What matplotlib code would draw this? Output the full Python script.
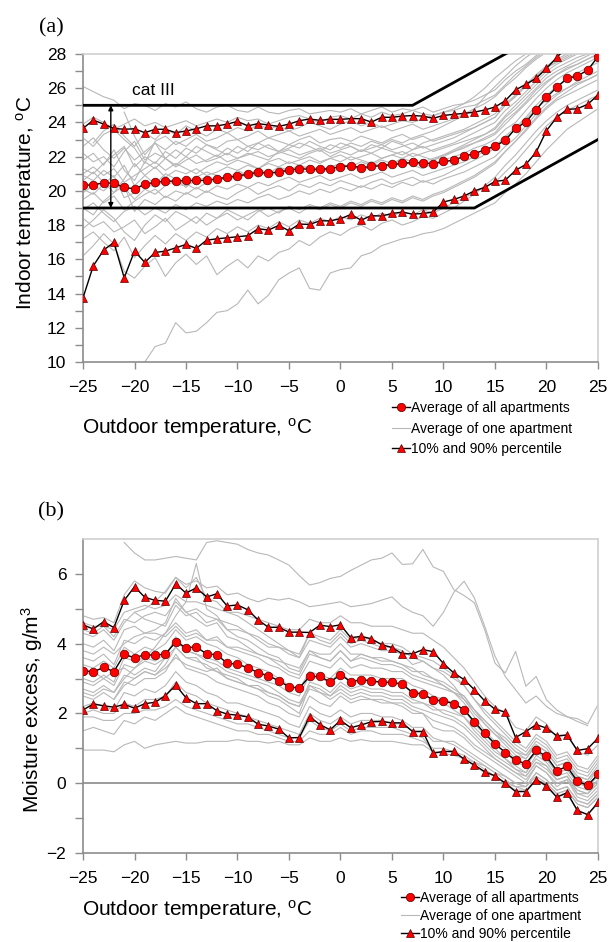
import numpy as np
import matplotlib
matplotlib.use("Agg")
import matplotlib.pyplot as plt
from matplotlib.lines import Line2D

plt.rcParams['font.family'] = ['Liberation Sans', 'DejaVu Sans']
plt.rcParams['mathtext.fontset'] = 'custom'
plt.rcParams['mathtext.rm'] = 'Liberation Sans'
plt.rcParams['mathtext.it'] = 'Liberation Sans:italic'

# Outdoor temperature bins, one per degree
t_out = np.arange(-25, 26)

# (a) indoor temperature, all apartments
indoor_mean = [20.34, 20.34, 20.48, 20.44, 20.2, 20.12, 20.38, 20.51, 20.57, 20.57, 20.61, 20.61, 20.61,
               20.71, 20.79, 20.87, 20.98, 21.08, 21.04, 21.1, 21.2, 21.3, 21.26, 21.26, 21.3,
               21.41, 21.47, 21.35, 21.43, 21.47, 21.55, 21.6, 21.66, 21.64, 21.57, 21.72, 21.78, 22.03,
               22.17, 22.4, 22.62, 22.95, 23.65, 24.02, 24.74, 25.47, 26.05, 26.58, 26.71, 27.06, 27.84]
indoor_p90 = [23.65, 24.14, 23.9, 23.65, 23.6, 23.63, 23.4, 23.6, 23.6, 23.4, 23.5, 23.63, 23.8,
              23.8, 23.9, 24.06, 23.8, 23.93, 23.85, 23.77, 23.9, 24.1, 24.2, 24.12, 24.18,
              24.18, 24.22, 24.22, 24.02, 24.3, 24.3, 24.37, 24.4, 24.37, 24.24, 24.41, 24.47, 24.53,
              24.6, 24.73, 24.9, 25.27, 25.9, 26.23, 26.58, 27.16, 27.8, 28.4, 28.9, 29.4, 29.9]
indoor_p10 = [13.75, 15.62, 16.54, 16.99, 14.92, 16.48, 15.82, 16.4, 16.48, 16.67, 16.87, 16.64, 17.12,
              17.2, 17.26, 17.32, 17.38, 17.79, 17.71, 17.98, 17.67, 18.06, 18.04, 18.25, 18.25,
              18.37, 18.62, 18.29, 18.55, 18.53, 18.68, 18.76, 18.64, 18.68, 18.76, 19.35, 19.5, 19.7,
              20.0, 20.2, 20.55, 20.63, 21.2, 21.55, 22.27, 23.52, 24.3, 24.76, 24.8, 25.06, 25.6]

# (a) single apartments: (first outdoor temperature, values)
indoor_apartments = [
    (-25, [26.1, 25.8, 25.5, 25.3, 24.8, 25.1, 25.0, 24.7, 25.1, 24.9, 25.2, 24.8, 24.6, 24.9, 25.0, 24.7, 24.6,
           24.9, 24.6, 24.5, 24.7, 24.8, 24.5, 24.6, 24.7, 24.6, 24.8, 24.5, 24.7, 24.9, 24.6, 24.8, 24.7, 24.9,
           24.6, 24.8, 25.0, 25.1, 25.3, 25.6, 25.9, 26.5, 27.0, 27.4, 27.9, 28.3, 28.6, 28.9, 29.2, 29.4, 29.7]),
    (-25, [23.9, 24.3, 24.0, 23.6, 23.9, 24.2, 23.8, 24.0, 23.7, 23.9, 24.1, 23.8, 24.0, 24.2, 24.0, 24.3, 24.1,
           24.2, 23.9, 24.1, 24.3, 24.4, 24.2, 24.0, 24.3, 24.4, 24.2, 24.5, 24.3, 24.6, 24.4, 24.5, 24.7, 24.5,
           24.4, 24.6, 24.7, 24.9, 25.0, 25.3, 25.6, 26.2, 26.8, 27.3, 27.8, 28.2, 28.6, 28.8, 29.1, 29.3, 29.6]),
    (-25, [22.6, 23.1, 22.4, 21.9, 22.5, 21.8, 22.3, 22.8, 22.4, 22.9, 22.6, 23.1, 22.7, 22.5, 22.9, 23.0, 22.6,
           22.8, 23.1, 22.9, 22.7, 23.0, 23.2, 22.8, 23.0, 23.1, 22.9, 23.2, 23.0, 22.8, 23.1, 23.3, 23.0, 23.2,
           22.9, 23.1, 23.3, 23.5, 23.7, 24.0, 24.3, 25.0, 25.5, 26.1, 26.7, 27.2, 27.6, 27.9, 28.2, 28.4, 28.7]),
    (-25, [21.8, 22.2, 21.5, 22.4, 21.2, 20.6, 21.7, 21.3, 21.9, 21.5, 22.0, 21.6, 21.8, 22.1, 21.7, 21.9, 22.2,
           22.0, 21.8, 22.3, 22.1, 21.9, 22.2, 22.4, 22.0, 22.3, 22.1, 22.4, 22.2, 22.5, 22.3, 22.1, 22.4, 22.6,
           22.3, 22.5, 22.7, 22.9, 23.1, 23.3, 23.6, 24.3, 24.8, 25.4, 26.0, 26.6, 27.0, 27.3, 27.6, 27.9, 28.2]),
    (-25, [20.9, 20.6, 21.2, 20.8, 21.5, 20.3, 20.9, 21.4, 20.8, 21.2, 21.0, 21.3, 20.9, 21.1, 21.4, 21.2, 21.5,
           21.3, 21.6, 21.4, 21.7, 21.5, 21.8, 21.6, 21.9, 21.7, 22.0, 21.8, 21.6, 21.9, 22.1, 21.9, 22.2, 22.0,
           21.8, 22.1, 22.3, 22.6, 22.8, 23.1, 23.4, 24.1, 24.6, 25.2, 25.9, 26.4, 26.8, 27.2, 27.4, 27.7, 28.0]),
    (-25, [20.1, 19.8, 20.4, 20.9, 19.6, 19.9, 20.5, 20.2, 20.7, 20.4, 20.3, 20.6, 20.8, 20.5, 20.9, 20.7, 21.0,
           21.2, 20.9, 21.1, 21.3, 21.0, 21.2, 21.4, 21.1, 21.3, 21.5, 21.2, 21.4, 21.6, 21.4, 21.7, 21.5, 21.3,
           21.6, 21.8, 22.0, 22.2, 22.5, 22.7, 23.0, 23.6, 24.0, 24.7, 25.4, 26.0, 26.5, 26.9, 27.2, 27.5, 27.8]),
    (-25, [19.5, 19.9, 19.3, 19.7, 18.9, 19.4, 19.8, 20.1, 19.6, 20.0, 19.8, 20.2, 19.9, 20.3, 20.1, 20.4, 20.2,
           20.5, 20.3, 20.6, 20.8, 20.5, 20.7, 20.9, 20.6, 20.8, 21.0, 20.7, 20.9, 21.1, 20.8, 21.0, 21.2, 20.9,
           21.1, 21.3, 21.5, 21.7, 22.0, 22.3, 22.6, 23.2, 23.7, 24.3, 25.0, 25.6, 26.1, 26.5, 26.9, 27.2, 27.5]),
    (-25, [18.9, 19.3, 18.7, 18.2, 18.8, 19.1, 18.6, 19.0, 18.7, 19.2, 18.9, 19.3, 19.1, 19.4, 19.2, 19.5, 19.3,
           19.6, 19.8, 19.5, 19.7, 20.0, 19.8, 20.1, 19.9, 20.2, 20.0, 20.3, 20.1, 20.4, 20.2, 20.5, 20.3, 20.6,
           20.4, 20.7, 20.9, 21.1, 21.4, 21.7, 22.0, 22.6, 23.1, 23.8, 24.5, 25.1, 25.6, 26.0, 26.4, 26.7, 27.0]),
    (-25, [17.2, 17.6, 17.0, 16.5, 17.3, 16.1, 16.8, 17.4, 16.9, 17.5, 17.1, 17.6, 17.3, 17.8, 17.5, 17.9, 17.6,
           18.0, 17.8, 18.2, 17.9, 18.3, 18.1, 18.4, 18.2, 18.5, 18.3, 18.6, 18.4, 18.7, 18.5, 18.8, 18.6, 18.9,
           18.7, 19.0, 19.3, 19.6, 19.9, 20.2, 20.5, 21.1, 21.7, 22.4, 23.1, 23.8, 24.3, 24.7, 25.0, 25.3, 25.6]),
    (-19, [10.0, 10.9, 11.1, 12.3, 11.7, 11.8, 12.3, 12.9, 13.0, 13.4, 14.2, 13.4, 13.9, 14.8, 15.2, 15.5, 14.3,
           14.2, 15.2, 15.4, 15.5, 16.2, 16.4, 16.8, 17.0, 17.2, 17.3, 17.5, 17.6, 17.8, 18.1, 18.4, 18.7, 19.0,
           19.3, 19.9, 20.4, 21.0, 21.7, 22.4, 23.0, 23.6, 24.0, 24.4, 24.8]),
    (-25, [16.2, 16.8, 17.5, 16.9, 15.3, 14.9, 15.6, 16.1, 15.0, 15.8, 16.3, 15.7, 16.2, 15.1, 15.6, 16.0, 15.5,
           16.2, 15.9, 16.4, 16.6, 17.1, 16.8, 17.3, 17.6, 17.4, 17.8, 18.0, 17.7, 18.1, 18.3, 18.0, 18.2, 18.5,
           18.4, 18.7, 19.0, 19.4, 19.8, 20.3, 20.8, 21.5, 22.1, 22.8, 23.5, 24.1, 24.6, 25.0, 25.3, 25.6, 25.9]),
    (-25, [18.4, 17.9, 18.2, 17.6, 17.9, 18.3, 17.5, 17.9, 18.4, 17.7, 18.1, 18.5, 18.0, 18.4, 18.7, 18.3, 18.6,
           18.9, 18.5, 18.8, 19.0, 18.7, 19.1, 18.9, 19.2, 19.0, 19.3, 19.1, 19.4, 19.2, 19.5, 19.3, 19.6, 19.4,
           19.7, 19.9, 20.2, 20.5, 20.8, 21.2, 21.6, 22.3, 22.9, 23.6, 24.3, 24.9, 25.4, 25.8, 26.2, 26.5, 26.8]),
    (-25, [21.3, 21.0, 21.6, 22.1, 22.6, 21.4, 22.0, 21.6, 22.3, 21.9, 22.5, 22.2, 22.7, 22.4, 22.1, 22.6, 22.3,
           22.8, 22.5, 22.3, 22.7, 22.5, 22.9, 22.6, 22.4, 22.8, 22.6, 22.3, 22.7, 22.5, 22.9, 22.7, 22.4, 22.8,
           23.0, 23.2, 23.4, 23.6, 23.9, 24.2, 24.5, 25.1, 25.6, 26.2, 26.7, 27.2, 27.5, 27.8, 28.1, 28.3, 28.5]),
    (-25, [19.9, 20.3, 20.0, 20.5, 20.2, 19.5, 20.1, 19.8, 20.3, 20.6, 20.4, 20.1, 20.5, 20.8, 20.6, 20.9, 21.1,
           20.8, 21.2, 21.0, 21.4, 21.2, 21.5, 21.1, 21.3, 21.6, 21.4, 21.7, 21.5, 21.8, 21.6, 21.9, 21.7, 21.5,
           21.8, 22.0, 22.3, 22.5, 22.8, 23.0, 23.3, 23.9, 24.5, 25.1, 25.7, 26.3, 26.8, 27.1, 27.4, 27.7, 28.0]),
    (-24, [22.8, 23.5, 23.9, 23.2, 22.6, 23.4, 23.0, 23.6, 23.3, 23.8, 23.5, 23.2, 23.6, 23.4, 23.7, 23.5, 23.9,
           23.6, 23.8, 23.5, 23.7, 24.0, 23.8, 23.6, 23.9, 24.1, 23.8, 24.0, 23.7, 23.9, 24.1, 24.0, 24.2, 24.4,
           24.6, 24.8, 25.1, 25.5, 26.0, 26.6, 27.1, 27.6, 28.0, 28.4, 28.7, 29.0, 29.2, 29.4, 29.6, 29.8]),
    (-25, [20.6, 21.1, 20.5, 19.9, 20.7, 21.6, 20.9, 20.4, 21.0, 20.7, 20.2, 20.8, 21.1, 20.9, 20.6, 21.2, 20.9,
           21.3, 21.0, 21.4, 21.2, 21.5, 21.3, 21.1, 21.4, 21.6, 21.3, 21.5, 21.7, 21.4, 21.6, 21.8, 21.5, 21.7,
           21.9, 22.1, 22.4, 22.7, 23.0, 23.3, 23.7, 24.4, 25.0, 25.6, 26.2, 26.8, 27.2, 27.5, 27.8, 28.0, 28.3]),
    (-25, [19.0, 18.6, 19.4, 19.9, 20.3, 18.8, 19.5, 19.2, 19.7, 19.4, 19.9, 19.6, 20.0, 19.7, 19.5, 19.9, 20.2,
           19.8, 20.1, 20.3, 20.0, 20.4, 20.2, 20.5, 20.3, 20.6, 20.4, 20.2, 20.5, 20.7, 20.4, 20.6, 20.8, 20.5,
           20.7, 20.9, 21.2, 21.5, 21.8, 22.1, 22.5, 23.1, 23.6, 24.2, 24.8, 25.3, 25.7, 26.0, 26.3, 26.5, 26.8]),
    (-21, [24.6, 23.2, 22.1, 22.8, 21.9, 22.4, 22.0, 22.6, 22.3, 22.0, 22.5, 22.2, 22.6, 22.4, 22.7, 22.3, 22.5,
           22.8, 22.6, 22.3, 22.7, 22.5, 22.8, 22.6, 22.9, 22.7, 23.0, 22.8, 23.1, 23.3, 23.5, 23.8, 24.1, 24.4,
           24.8, 25.5, 26.1, 26.7, 27.3, 27.8, 28.2, 28.5, 28.8, 29.0, 29.2, 29.4, 29.6]),
    (-25, [21.0, 21.4, 20.9, 21.3, 20.5, 20.9, 21.3, 21.7, 21.2, 21.6, 21.3, 21.0, 21.4, 21.7, 21.5, 21.8, 21.6,
           21.3, 21.7, 21.9, 21.6, 21.8, 22.0, 21.7, 21.9, 22.1, 21.8, 22.0, 22.2, 21.9, 22.1, 22.3, 22.0, 22.2,
           22.4, 22.6, 22.8, 23.1, 23.4, 23.7, 24.0, 24.7, 25.2, 25.8, 26.4, 27.0, 27.4, 27.7, 28.0, 28.2, 28.5]),
    (-25, [17.8, 18.3, 18.9, 18.4, 17.6, 17.1, 18.0, 18.6, 18.2, 18.8, 18.5, 18.1, 18.7, 18.4, 18.9, 18.6, 18.3,
           18.8, 19.0, 18.7, 19.1, 18.9, 19.2, 19.0, 19.3, 19.1, 19.4, 19.2, 19.5, 19.3, 19.6, 19.4, 19.7, 19.5,
           19.8, 20.0, 20.3, 20.6, 20.9, 21.3, 21.7, 22.3, 22.9, 23.5, 24.2, 24.8, 25.3, 25.6, 25.9, 26.2, 26.5]),
    (-25, [22.2, 21.7, 22.0, 21.4, 22.3, 22.9, 21.8, 22.2, 21.9, 21.4, 21.8, 22.1, 21.7, 21.9, 22.2, 21.9, 22.1,
           22.3, 22.0, 22.2, 22.4, 22.1, 22.3, 22.5, 22.2, 22.4, 22.6, 22.3, 22.5, 22.7, 22.4, 22.6, 22.8, 22.5,
           22.7, 22.9, 23.1, 23.4, 23.7, 24.0, 24.3, 25.0, 25.6, 26.2, 26.8, 27.3, 27.7, 28.0, 28.3, 28.5, 28.8]),
    (-25, [23.1, 22.6, 23.3, 23.6, 23.0, 22.5, 21.6, 22.9, 23.2, 22.7, 23.0, 23.3, 22.9, 23.1, 23.4, 23.0, 23.2,
           23.5, 23.1, 23.3, 23.5, 23.2, 23.4, 23.6, 23.3, 23.5, 23.7, 23.4, 23.6, 23.8, 23.5, 23.7, 23.9, 23.6,
           23.8, 24.0, 24.2, 24.5, 24.8, 25.1, 25.5, 26.1, 26.6, 27.2, 27.7, 28.1, 28.4, 28.7, 28.9, 29.1, 29.3]),
]

# Category III band limits (outdoor temperature, indoor temperature)
cat3_upper_x = [-25, 7, 25]
cat3_upper_y = [25, 25, 31]
cat3_lower_x = [-25, 13, 25]
cat3_lower_y = [19, 19, 23]

# (b) moisture excess, all apartments
moist_mean = [3.23, 3.19, 3.32, 3.2, 3.69, 3.6, 3.68, 3.67, 3.7, 4.05, 3.89, 3.9, 3.71, 3.68, 3.44, 3.41,
              3.31, 3.17, 3.08, 2.94, 2.76, 2.73, 3.06, 3.06, 2.9,
              3.11, 2.91, 2.96, 2.94, 2.89, 2.89, 2.84, 2.6, 2.56, 2.39, 2.36, 2.28, 2.11, 1.76, 1.43, 1.13,
              0.88, 0.66, 0.56, 0.94, 0.77, 0.36, 0.48, 0.05, -0.06, 0.25]
moist_p90 = [4.54, 4.42, 4.63, 4.46, 5.24, 5.63, 5.33, 5.24, 5.22, 5.71, 5.45, 5.6, 5.34, 5.43, 5.08, 5.11,
             4.97, 4.68, 4.47, 4.47, 4.33, 4.33, 4.32, 4.53, 4.49,
             4.54, 4.17, 4.21, 4.14, 3.97, 3.89, 3.71, 3.71, 3.83, 3.77, 3.43, 3.16, 2.97, 2.68, 2.36, 2.12,
             2.04, 1.31, 1.48, 1.68, 1.58, 1.36, 1.38, 0.94, 0.99, 1.29]
moist_p10 = [2.1, 2.27, 2.22, 2.18, 2.26, 2.15, 2.28, 2.32, 2.51, 2.81, 2.45, 2.28, 2.28, 2.08, 1.98, 1.95,
             1.9, 1.69, 1.64, 1.55, 1.3, 1.31, 1.91, 1.68, 1.53,
             1.8, 1.59, 1.67, 1.76, 1.77, 1.73, 1.73, 1.48, 1.48, 0.86, 0.91, 0.91, 0.69, 0.52, 0.33, 0.21,
             0.0, -0.24, -0.24, 0.1, -0.07, -0.4, -0.27, -0.78, -0.9, -0.55]

moist_apartments = [
    (-21, [6.9, 6.6, 6.4, 6.4, 6.45, 6.5, 6.45, 6.4, 6.9, 6.95, 6.9, 6.85, 6.7, 6.6, 6.54, 6.4, 6.25, 5.95,
           5.68, 5.75, 5.87, 5.93, 6.1, 6.25, 6.4, 6.45, 6.6, 6.27, 6.29, 6.7, 6.2, 6.07, 5.55, 5.38, 5.17, 4.4,
           3.44, 3.16, 3.78, 2.78, 3.06, 2.39, 2.1, 1.91, 1.77, 1.65]),
    (-25, [4.8, 4.7, 4.75, 4.6, 5.4, 5.8, 5.6, 5.5, 5.45, 5.9, 5.7, 5.8, 5.6, 5.65, 5.4, 5.45, 5.3, 5.2, 5.3,
           5.25, 5.3, 5.2, 5.06, 5.1, 5.15, 5.2, 5.06, 5.1, 5.15, 5.25, 5.34, 5.06, 4.9, 4.8, 4.5, 4.9, 5.47,
           5.79, 5.31, 4.5, 3.64, 3.06, 2.68, 2.3, 2.5, 2.2, 2.0, 1.9, 1.85, 1.7, 2.25]),
    (-25, [4.3, 4.2, 4.4, 4.1, 4.6, 4.9, 4.7, 4.6, 4.5, 5.1, 4.8, 4.9, 4.6, 4.7, 4.4, 4.4, 4.3, 4.1, 3.9, 3.9,
           3.7, 3.6, 4.1, 4.0, 3.9, 4.2, 3.9, 4.0, 3.9, 3.8, 3.8, 3.7, 3.4, 3.5, 3.3, 3.2, 3.0, 2.8, 2.4, 2.0,
           1.7, 1.4, 1.1, 0.9, 1.3, 1.1, 0.7, 0.8, 0.4, 0.3, 0.7]),
    (-25, [3.6, 3.5, 3.7, 3.4, 4.1, 4.0, 4.2, 4.1, 4.3, 4.6, 4.3, 4.4, 4.1, 4.2, 3.9, 3.8, 3.7, 3.6, 3.4, 3.3,
           3.1, 3.0, 3.5, 3.4, 3.3, 3.6, 3.3, 3.4, 3.3, 3.3, 3.2, 3.2, 3.0, 2.9, 2.8, 2.7, 2.6, 2.5, 2.1, 1.7,
           1.4, 1.1, 0.8, 0.7, 1.1, 0.9, 0.5, 0.6, 0.2, 0.1, 0.4]),
    (-25, [2.9, 2.8, 3.0, 2.8, 3.4, 3.3, 3.5, 3.4, 3.6, 4.2, 3.8, 3.7, 3.5, 3.4, 3.2, 3.1, 3.0, 2.9, 2.8, 2.6,
           2.4, 2.3, 2.8, 2.7, 2.5, 2.8, 2.6, 2.7, 2.6, 2.6, 2.5, 2.5, 2.3, 2.3, 2.1, 2.1, 2.0, 1.9, 1.6, 1.3,
           1.0, 0.7, 0.5, 0.3, 0.8, 0.6, 0.2, 0.3, -0.1, -0.2, 0.1]),
    (-25, [2.5, 2.4, 2.6, 2.4, 2.9, 2.8, 3.0, 3.0, 3.2, 3.7, 3.3, 3.2, 3.1, 2.9, 2.8, 2.7, 2.6, 2.5, 2.3, 2.2,
           2.0, 1.9, 2.5, 2.3, 2.2, 2.5, 2.3, 2.4, 2.4, 2.3, 2.3, 2.2, 2.0, 2.0, 1.6, 1.5, 1.5, 1.3, 1.0, 0.8,
           0.6, 0.4, 0.2, 0.0, 0.5, 0.3, -0.1, 0.1, -0.4, -0.5, -0.2]),
    (-25, [0.95, 0.95, 0.95, 0.9, 1.1, 1.2, 1.0, 1.1, 1.15, 1.2, 1.15, 1.15, 1.2, 1.2, 1.2, 1.25, 1.2, 1.2,
           1.15, 1.2, 1.1, 1.1, 1.3, 1.2, 1.2, 1.3, 1.2, 1.25, 1.2, 1.2, 1.2, 1.15, 1.1, 1.1, 0.9, 0.85, 0.8,
           0.7, 0.6, 0.4, 0.2, 0.0, -0.1, -0.2, 0.1, 0.0, -0.3, -0.2, -0.6, -0.7, -0.4]),
    (-25, [1.9, 1.9, 1.8, 1.8, 2.0, 2.0, 2.1, 2.1, 2.2, 2.4, 2.2, 2.1, 2.0, 1.9, 1.8, 1.7, 1.7, 1.6, 1.5, 1.4,
           1.3, 1.3, 1.8, 1.6, 1.5, 1.7, 1.5, 1.6, 1.6, 1.6, 1.6, 1.5, 1.4, 1.3, 0.9, 0.9, 0.9, 0.7, 0.5, 0.3,
           0.2, 0.0, -0.2, -0.2, 0.1, -0.1, -0.4, -0.3, -0.8, -0.9, -0.6]),
    (-25, [4.0, 3.9, 4.1, 3.8, 4.4, 4.5, 4.3, 4.4, 4.6, 5.3, 4.9, 4.7, 4.5, 4.6, 4.2, 4.1, 3.9, 3.7, 3.6, 3.4,
           3.2, 3.1, 3.7, 3.6, 3.5, 3.8, 3.5, 3.6, 3.5, 3.4, 3.4, 3.3, 3.1, 3.0, 2.9, 2.8, 2.6, 2.3, 1.9, 1.5,
           1.2, 1.0, 0.7, 0.5, 0.9, 0.7, 0.3, 0.4, 0.0, -0.1, 0.2]),
    (-25, [3.1, 3.2, 3.0, 3.2, 3.3, 3.1, 3.3, 3.2, 3.6, 3.9, 3.6, 3.5, 3.4, 3.2, 3.0, 2.9, 2.8, 2.7, 2.6, 2.5,
           2.3, 2.2, 2.9, 2.8, 2.6, 2.9, 2.7, 2.8, 2.7, 2.7, 2.6, 2.6, 2.4, 2.3, 2.2, 2.0, 1.9, 1.7, 1.4, 1.1,
           0.8, 0.6, 0.4, 0.2, 0.6, 0.5, 0.1, 0.2, -0.3, -0.3, 0.0]),
    (-25, [2.2, 2.3, 2.2, 2.1, 2.6, 2.5, 2.7, 2.6, 2.8, 3.2, 2.9, 2.8, 2.6, 2.5, 2.3, 2.3, 2.2, 2.1, 2.0, 1.9,
           1.7, 1.6, 2.2, 2.0, 1.9, 2.1, 1.9, 2.0, 2.0, 1.9, 1.9, 1.8, 1.6, 1.6, 1.3, 1.2, 1.2, 1.0, 0.8, 0.6,
           0.4, 0.2, 0.0, -0.1, 0.3, 0.1, -0.2, -0.1, -0.5, -0.6, -0.3]),
    (-25, [2.6, 2.5, 2.7, 2.6, 3.0, 3.3, 3.6, 3.9, 4.3, 4.8, 5.2, 6.3, 5.0, 4.8, 4.4, 4.2, 4.1, 3.9, 3.7, 3.6,
           3.3, 3.2, 3.8, 3.6, 3.5, 3.8, 3.5, 3.7, 3.6, 3.5, 3.5, 3.4, 3.3, 3.1, 3.0, 2.8, 2.6, 2.4, 2.1, 1.8,
           1.5, 1.3, 1.0, 0.8, 1.1, 0.9, 0.5, 0.6, 0.2, 0.1, 0.5]),
    (-25, [3.8, 3.7, 3.9, 3.7, 4.0, 4.2, 4.3, 4.3, 4.2, 4.5, 4.2, 4.3, 4.1, 4.1, 3.9, 3.9, 3.8, 3.7, 3.6, 3.5,
           3.4, 3.3, 3.8, 3.7, 3.7, 4.0, 3.7, 3.7, 3.6, 3.6, 3.5, 3.4, 3.2, 3.2, 3.0, 2.9, 2.7, 2.5, 2.1, 1.8,
           1.5, 1.2, 0.9, 0.8, 1.2, 1.0, 0.6, 0.7, 0.3, 0.2, 0.6]),
    (-25, [2.7, 2.6, 2.8, 2.6, 3.1, 3.0, 3.2, 3.1, 3.3, 3.6, 3.4, 3.3, 3.2, 3.3, 3.0, 2.9, 2.8, 2.8, 2.6, 2.5,
           2.3, 2.2, 2.7, 2.6, 2.5, 2.7, 2.5, 2.6, 2.5, 2.5, 2.4, 2.4, 2.2, 2.1, 2.0, 1.9, 1.8, 1.6, 1.3, 1.0,
           0.7, 0.5, 0.3, 0.1, 0.5, 0.3, 0.0, 0.1, -0.3, -0.4, -0.1]),
    (-25, [1.5, 1.6, 1.5, 1.4, 1.8, 1.7, 1.9, 1.8, 2.0, 2.2, 2.0, 1.9, 1.8, 1.7, 1.6, 1.5, 1.5, 1.4, 1.4, 1.3,
           1.2, 1.2, 1.5, 1.4, 1.4, 1.6, 1.4, 1.5, 1.5, 1.4, 1.4, 1.4, 1.3, 1.2, 1.0, 1.0, 0.9, 0.8, 0.6, 0.5,
           0.3, 0.1, -0.1, -0.1, 0.2, 0.0, -0.3, -0.2, -0.6, -0.7, -0.4]),
    (-25, [3.4, 3.3, 3.5, 3.3, 3.9, 3.7, 3.9, 3.8, 4.0, 4.4, 4.1, 4.2, 4.0, 3.9, 3.7, 3.6, 3.4, 3.3, 3.2, 3.0,
           2.8, 2.7, 3.2, 3.1, 3.0, 3.3, 3.1, 3.1, 3.1, 3.0, 3.0, 3.0, 2.8, 2.7, 2.5, 2.4, 2.3, 2.1, 1.7, 1.4,
           1.1, 0.9, 0.6, 0.5, 0.9, 0.7, 0.3, 0.4, 0.0, -0.1, 0.3]),
    (-25, [4.6, 4.5, 4.5, 4.4, 4.9, 5.0, 5.1, 5.0, 5.1, 5.4, 5.2, 5.2, 5.1, 5.0, 4.9, 4.9, 4.8, 4.7, 4.6, 4.5,
           4.4, 4.4, 4.7, 4.6, 4.6, 4.8, 4.6, 4.6, 4.5, 4.5, 4.5, 4.4, 4.3, 4.3, 4.1, 3.9, 3.6, 3.3, 2.9, 2.5,
           2.2, 2.0, 1.6, 1.5, 1.9, 1.7, 1.3, 1.4, 0.9, 0.8, 1.1]),
    (-22, [2.4, 2.8, 3.0, 3.2, 3.1, 3.4, 3.9, 3.6, 3.6, 3.3, 3.2, 3.1, 3.0, 2.8, 2.7, 2.5, 2.4, 2.2, 2.0, 2.8,
           2.6, 2.4, 2.6, 2.4, 2.5, 2.4, 2.4, 2.3, 2.3, 2.1, 2.0, 1.8, 1.7, 1.6, 1.4, 1.1, 0.9, 0.7, 0.5, 0.3,
           0.2, 0.6, 0.4, 0.1, 0.2, -0.2, -0.3, 0.0]),
    (-25, [3.0, 2.9, 3.1, 2.9, 3.6, 3.5, 3.6, 3.5, 3.7, 4.1, 3.8, 3.7, 3.6, 3.5, 3.3, 3.2, 3.1, 3.0, 2.9, 2.8,
           2.6, 2.5, 3.1, 3.0, 2.9, 3.2, 2.9, 3.0, 2.9, 2.9, 2.9, 2.8, 2.6, 2.5, 2.4, 2.3, 2.1, 1.9, 1.5, 1.2,
           0.9, 0.7, 0.4, 0.3, 0.7, 0.5, 0.1, 0.2, -0.2, -0.3, 0.1]),
    (-25, [2.0, 2.1, 2.0, 2.0, 2.3, 2.2, 2.4, 2.4, 2.5, 2.9, 2.6, 2.5, 2.3, 2.2, 2.1, 2.0, 1.9, 1.8, 1.7, 1.6,
           1.5, 1.4, 2.0, 1.8, 1.7, 1.9, 1.7, 1.8, 1.8, 1.8, 1.7, 1.7, 1.5, 1.5, 1.2, 1.2, 1.1, 0.9, 0.7, 0.5,
           0.3, 0.2, 0.0, -0.1, 0.3, 0.1, -0.2, -0.1, -0.5, -0.6, -0.3]),
    (-20, [4.9, 5.0, 5.2, 5.5, 5.9, 5.6, 5.9, 5.3, 5.2, 4.9, 4.8, 4.6, 4.4, 4.2, 4.0, 3.8, 3.6, 4.3, 4.1, 4.0,
           4.3, 4.0, 4.1, 4.0, 3.9, 3.9, 3.8, 3.6, 3.5, 3.3, 3.1, 2.8, 2.4, 2.0, 1.7, 1.4, 1.2, 0.9, 0.7, 1.1,
           0.9, 0.5, 0.6, 0.1, 0.0, 0.4]),
    (-25, [4.4, 4.3, 4.5, 4.2, 4.7, 4.6, 4.8, 4.9, 4.8, 5.2, 4.9, 5.0, 4.8, 4.7, 4.6, 4.5, 4.3, 4.2, 4.0, 3.9,
           3.8, 3.7, 4.3, 4.2, 4.1, 4.4, 4.1, 4.2, 4.1, 4.0, 4.0, 3.9, 3.7, 3.6, 3.5, 3.3, 3.1, 2.8, 2.4, 2.1,
           1.8, 1.5, 1.2, 1.0, 1.4, 1.2, 0.8, 0.9, 0.5, 0.4, 0.8]),
]

gray = '#b8b8b8'
red = '#ff0000'
spine_dark = '#8c8c8c'
spine_light = '#d0d0d0'


def style_axes(ax, ylim, yticks, yminor):
    ax.set_xlim(-25, 25)
    ax.set_ylim(*ylim)
    ax.set_xticks(np.arange(-25, 26, 5))
    ax.set_yticks(yticks)
    ax.set_yticks(yminor, minor=True)
    ax.tick_params(axis='both', which='both', direction='out', length=6, width=1,
                   color=spine_dark, labelsize=12.5, pad=6)
    ax.tick_params(axis='x', which='major', length=5, pad=8)
    ax.spines['left'].set_color(spine_dark)
    ax.spines['bottom'].set_color(spine_dark)
    ax.spines['top'].set_color(spine_light)
    ax.spines['right'].set_color(spine_light)
    for s in ax.spines.values():
        s.set_linewidth(1.2)


def draw_series(ax, mean, p90, p10, apartments):
    for start, vals in apartments:
        xs = np.arange(start, start + len(vals))
        ax.plot(xs, vals, color=gray, lw=0.8, zorder=2)
    for p in (p90, p10):
        ax.plot(t_out, p, color='black', lw=1.0, marker='^', ms=6, mfc=red,
                mec='#5a0000', mew=0.5, zorder=5)
    ax.plot(t_out, mean, color='black', lw=1.0, marker='o', ms=6.2, mfc=red,
            mec='#5a0000', mew=0.5, zorder=6)


def add_legend(ax, fx, fy, spacing):
    handles = [
        Line2D([], [], color='black', lw=1.0, marker='o', ms=6, mfc=red, mec='#5a0000', mew=0.5),
        Line2D([], [], color=gray, lw=0.8),
        Line2D([], [], color='black', lw=1.0, marker='^', ms=6, mfc=red, mec='#5a0000', mew=0.5),
    ]
    labels = ['Average of all apartments', 'Average of one apartment', '10% and 90% percentile']
    ax.legend(handles, labels, loc='upper left', bbox_to_anchor=(fx, fy),
              bbox_transform=ax.figure.transFigure, frameon=False, fontsize=10,
              handlelength=1.3, handletextpad=0.1, labelspacing=spacing, borderpad=0,
              borderaxespad=0)


fig = plt.figure(figsize=(6.09, 9.42), dpi=100)
ax1 = fig.add_axes([0.1363, 0.6157, 0.8456, 0.3270])
ax2 = fig.add_axes([0.1363, 0.0945, 0.8456, 0.3333])

# (a) indoor temperature
style_axes(ax1, (10, 28), np.arange(10, 29, 2), np.arange(11, 28, 2))
draw_series(ax1, indoor_mean, indoor_p90, indoor_p10, indoor_apartments)
ax1.plot(cat3_upper_x, cat3_upper_y, color='black', lw=2, zorder=4)
ax1.plot(cat3_lower_x, cat3_lower_y, color='black', lw=2, zorder=4)
ax1.annotate('', xy=(-22.3, 25), xytext=(-22.3, 19),
             arrowprops=dict(arrowstyle='<|-|>', color='black', lw=1.0,
                             mutation_scale=7, shrinkA=0, shrinkB=0), zorder=4)
ax1.text(-20.2, 25.85, 'cat III', fontsize=12.5, ha='left', va='center')
add_legend(ax1, 0.643, 0.5743, 0.47)

# (b) moisture excess
style_axes(ax2, (-2, 7), np.arange(-2, 7, 2), np.arange(-1, 7, 2))
ax2.axhline(0, color='#8a8a8a', lw=1.2, zorder=1)
draw_series(ax2, moist_mean, moist_p90, moist_p10, moist_apartments)
add_legend(ax2, 0.658, 0.0543, 0.3)

# axis titles and panel labels
fig.text(0.043, 0.7845, 'Indoor temperature, $^{\\rm o}$C', rotation=90,
         ha='center', va='center', fontsize=15)
fig.text(0.3235, 0.5456, 'Outdoor temperature, $^{\\rm o}$C', ha='center', va='center', fontsize=15)
fig.text(0.052, 0.2463, 'Moisture excess, g/m$^{3}$', rotation=90,
         ha='center', va='center', fontsize=15)
fig.text(0.3235, 0.034, 'Outdoor temperature, $^{\\rm o}$C', ha='center', va='center', fontsize=15)
fig.text(0.0837, 0.9708, '(a)', family='Liberation Serif', fontsize=16, ha='center', va='center')
fig.text(0.0837, 0.4565, '(b)', family='Liberation Serif', fontsize=16, ha='center', va='center')

fig.savefig('out.png', dpi=100)
